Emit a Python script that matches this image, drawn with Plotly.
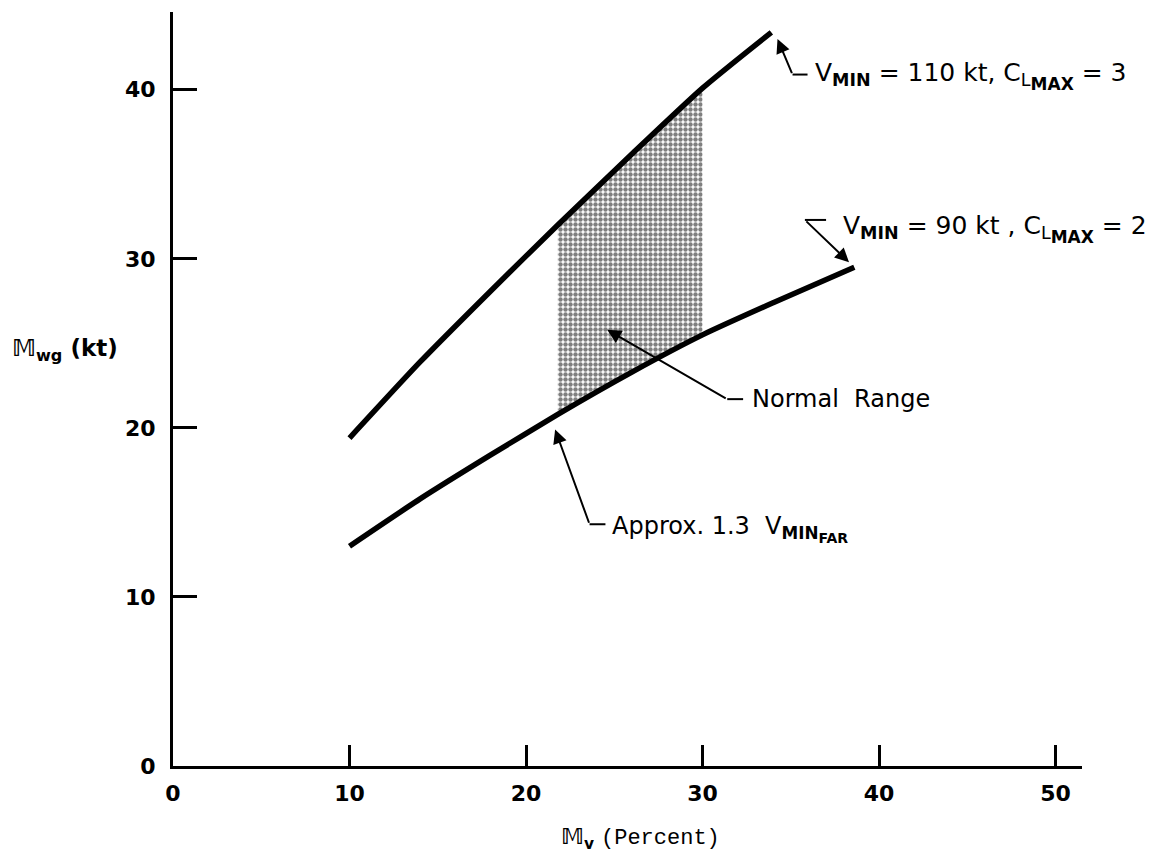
import plotly.graph_objects as go

# Gust-velocity margin vs. speed margin
mv_upper = [10, 14, 18, 21.8, 26, 30, 33.9]
mwg_upper = [19.4, 23.9, 28.1, 32.0, 36.2, 40.1, 43.4]
mv_lower = [10, 14, 18, 21.8, 26, 30, 34, 38.6]
mwg_lower = [13.0, 15.8, 18.4, 20.8, 23.3, 25.5, 27.4, 29.5]
normal_lo, normal_hi = 21.8, 30
x_ticks = [0, 10, 20, 30, 40, 50]
y_ticks = [0, 10, 20, 30, 40]

FONT = "DejaVu Sans"

# shaded "normal range" band between the two curves
lo_pts = [(x, y) for x, y in zip(mv_lower, mwg_lower) if normal_lo <= x <= normal_hi]
up_pts = [(x, y) for x, y in zip(mv_upper, mwg_upper) if normal_lo <= x <= normal_hi]
band = lo_pts + up_pts[::-1] + lo_pts[:1]

fig = go.Figure()
fig.add_trace(go.Scatter(
    x=[p[0] for p in band], y=[p[1] for p in band],
    mode="lines", fill="toself", line=dict(width=0),
    fillcolor="white",
    fillpattern=dict(shape=".", size=5, solidity=0.62, fgcolor="black", bgcolor="white"),
    hoverinfo="skip", showlegend=False,
))
for xs, ys in [(mv_upper, mwg_upper), (mv_lower, mwg_lower)]:
    fig.add_trace(go.Scatter(
        x=xs, y=ys, mode="lines",
        line=dict(color="black", width=5.5, shape="spline", smoothing=0.6),
        showlegend=False,
    ))

def leader(head, bend, end):
    # arrow from the bend to the head, plus the short horizontal tail
    fig.add_annotation(x=head[0], y=head[1], ax=bend[0], ay=bend[1],
                       xref="x", yref="y", axref="x", ayref="y",
                       text="", showarrow=True, arrowhead=2, arrowsize=1.4,
                       arrowwidth=2, arrowcolor="black")
    fig.add_shape(type="line", x0=bend[0], y0=bend[1], x1=end[0], y1=end[1],
                  xref="x", yref="y", line=dict(color="black", width=2))

def label(x, y, text, size):
    fig.add_annotation(x=x, y=y, xref="x", yref="y", text=text, showarrow=False,
                       xanchor="left", yanchor="middle",
                       font=dict(family=FONT, size=size, color="black"))

CLMAX = "C<sub>L<sub><span style='font-size:17px'><b>MAX</b></span></sub></sub>"

leader((34.25, 43.0), (35.1, 40.9), (35.95, 40.9))
label(36.25, 40.8, "V<sub><b>MIN</b></sub> = 110 kt, " + CLMAX + " = 3", 25)

leader((38.3, 29.8), (35.8, 32.3), (37.0, 32.3))
label(37.85, 31.75, "V<sub><b>MIN</b></sub> = 90 kt , " + CLMAX + " = 2", 25)

leader((24.6, 25.8), (31.4, 21.7), (32.3, 21.7))
label(32.7, 21.7, "Normal  Range", 24)

leader((21.65, 19.9), (23.6, 14.3), (24.5, 14.3))
label(24.75, 14.0,
      "Approx. 1.3  V<sub><b>MIN<sub><span style='font-size:14px'>FAR</span></sub></b></sub>", 24)

# axis titles
fig.add_annotation(x=-0.119, y=0.552, xref="paper", yref="paper", showarrow=False,
                   xanchor="center", yanchor="middle",
                   text="<b>𝕄</b><sub><b>wg</b></sub><b> (kt)</b>",
                   font=dict(family=FONT, size=23, color="black"))
fig.add_annotation(x=26.5, y=-0.096, xref="x", yref="paper", showarrow=False,
                   xanchor="center", yanchor="middle",
                   text="<b>𝕄</b><sub><b>v</b></sub> <span style='font-family:Liberation Mono'>(Percent)</span>",
                   font=dict(family=FONT, size=22, color="black"))

fig.update_xaxes(range=[0, 51.5], tickvals=x_ticks, ticktext=[str(v) for v in x_ticks],
                 showgrid=False, zeroline=False, showline=True, linecolor="black",
                 linewidth=3, ticks="inside", ticklen=21, tickwidth=2.5, tickcolor="black",
                 ticklabelstandoff=6,
                 tickfont=dict(family=FONT, size=22, color="black", weight="bold"))
fig.update_yaxes(range=[0, 44.6], tickvals=y_ticks, ticktext=[str(v) for v in y_ticks],
                 showgrid=False, zeroline=False, showline=True, linecolor="black",
                 linewidth=3, ticks="inside", ticklen=24, tickwidth=2.5, tickcolor="black",
                 ticklabelstandoff=10,
                 tickfont=dict(family=FONT, size=22, color="black", weight="bold"))

fig.update_layout(width=1166, height=856, margin=dict(l=173, r=84, t=12, b=90),
                  paper_bgcolor="white", plot_bgcolor="white", showlegend=False)

fig.write_html("out.html")
